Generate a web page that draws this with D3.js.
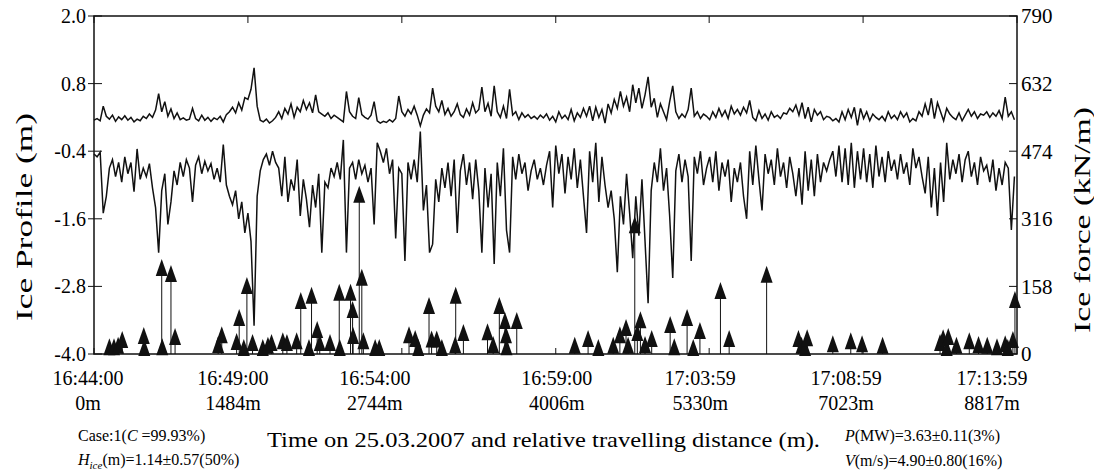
<!DOCTYPE html>
<html>
<head>
<meta charset="utf-8">
<script src="https://cdn.jsdelivr.net/npm/d3@7"></script>
<style>
  body { margin: 0; background: #fff; }
  svg { font-family: "Liberation Serif", "Times New Roman", serif; }
</style>
</head>
<body>
<svg id="chart" width="1094" height="475"></svg>
<script>
// seconds after 16:44:00 for each x tick
const tickSeconds = [0, 300, 600, 900, 1199, 1499, 1799];
const timeLabels = ["16:44:00", "16:49:00", "16:54:00", "16:59:00", "17:03:59", "17:08:59", "17:13:59"];
const distLabels = ["0m", "1484m", "2744m", "4006m", "5330m", "7023m", "8817m"];
const profileTicks = [2.0, 0.8, -0.4, -1.6, -2.8, -4.0];
const forceTicks = [790, 632, 474, 316, 158, 0];

// ice profile (m), one sample every 6 s
const sampleStep = 6;
const topProfile = [
  0.15,0.18,0.14,0.40,0.22,0.17,0.24,0.13,0.21,0.16,
  0.23,0.15,0.20,0.12,0.17,0.14,0.22,0.18,0.26,0.20,
  0.33,0.62,0.30,0.48,0.22,0.35,0.18,0.28,0.16,0.19,
  0.15,0.17,0.36,0.18,0.14,0.24,0.15,0.20,0.13,0.19,
  0.16,0.22,0.12,0.25,0.30,0.38,0.28,0.46,0.33,0.55,
  0.52,0.70,1.08,0.40,0.15,0.12,0.17,0.10,0.14,0.20,
  0.30,0.18,0.36,0.26,0.44,0.20,0.38,0.30,0.50,0.34,
  0.46,0.28,0.60,0.30,0.26,0.22,0.28,0.18,0.24,0.20,
  0.16,0.12,0.66,0.30,0.22,0.18,0.55,0.25,0.20,0.17,
  0.24,0.48,0.14,0.10,0.13,0.11,0.16,0.12,0.18,0.58,
  0.30,0.22,0.34,0.26,0.40,0.24,0.05,0.24,0.35,0.28,
  0.72,0.40,0.30,0.50,0.25,0.36,0.22,0.30,0.44,0.25,
  0.20,0.35,0.24,0.46,0.28,0.34,0.74,0.30,0.45,0.22,
  0.76,0.30,0.20,0.40,0.18,0.70,0.24,0.30,0.16,0.28,
  0.20,0.25,0.18,0.22,0.17,0.24,0.19,0.26,0.15,0.22,
  0.12,0.30,0.18,0.24,0.16,0.34,0.14,0.28,0.20,0.36,
  0.22,0.40,0.14,0.38,0.20,0.34,0.10,0.44,0.28,0.52,
  0.36,0.66,0.40,0.56,0.30,0.78,0.46,0.72,0.36,0.60,
  0.92,0.38,0.54,0.20,0.44,0.30,0.16,0.48,0.76,0.30,
  0.18,0.26,0.20,0.34,0.72,0.22,0.30,0.18,0.26,0.22,
  0.16,0.30,0.20,0.36,0.22,0.32,0.18,0.40,0.26,0.34,
  0.24,0.38,0.28,0.50,0.20,0.14,0.32,0.18,0.26,0.15,
  0.30,0.20,0.24,0.18,0.28,0.26,0.36,0.30,0.42,0.24,
  0.46,0.18,0.38,0.12,0.34,0.24,0.30,0.16,0.22,0.20,
  0.14,0.18,0.12,0.30,0.16,0.34,0.20,0.38,0.06,0.36,
  0.18,0.30,0.14,0.26,0.20,0.16,0.22,0.14,0.30,0.18,
  0.24,0.16,0.30,0.20,0.28,0.12,0.18,0.14,0.30,0.22,
  0.44,0.24,0.54,0.18,0.46,0.30,0.14,0.36,0.26,0.20,
  0.16,0.28,0.14,0.24,0.34,0.22,0.30,0.18,0.26,0.24,
  0.30,0.20,0.28,0.22,0.32,0.18,0.56,0.22,0.30,0.16
];
const bottomProfile = [
  -0.45,-0.50,-0.42,-1.50,-1.20,-0.70,-0.55,-0.85,-0.60,-0.95,
  -0.50,-0.80,-0.60,-1.12,-0.36,-0.90,-0.70,-0.85,-0.62,-1.05,
  -1.40,-2.20,-1.10,-0.80,-1.70,-1.30,-0.75,-1.00,-0.60,-0.85,
  -0.55,-0.70,-1.30,-0.65,-0.50,-0.80,-0.58,-0.75,-0.62,-0.90,
  -0.70,-0.95,-0.28,-1.00,-1.20,-1.35,-1.10,-1.60,-1.30,-1.85,
  -1.50,-2.00,-3.50,-1.20,-0.75,-0.55,-0.45,-0.65,-0.40,-0.60,
  -0.70,-1.20,-0.50,-1.30,-0.90,-1.10,-0.55,-1.55,-0.90,-1.25,
  -1.75,-1.00,-1.40,-0.80,-2.20,-0.95,-1.05,-0.70,-0.85,-0.60,
  -0.90,-0.20,-2.20,-0.70,-0.60,-0.90,-0.55,-0.80,-0.65,-0.95,
  -0.70,-1.70,-0.25,-0.40,-0.60,-0.35,-0.80,-0.55,-1.95,-0.70,
  -0.80,-2.35,-0.60,-0.90,-0.55,-0.95,-0.05,-1.45,-1.00,-2.20,
  -2.05,-0.90,-1.30,-0.70,-1.05,-0.60,-1.20,-0.55,-1.85,-0.75,
  -0.45,-1.00,-0.60,-1.25,-0.55,-1.10,-2.20,-0.70,-1.40,-0.80,
  -2.40,-0.60,-1.20,-0.35,-1.80,-2.20,-0.50,-0.90,-0.45,-0.80,
  -0.60,-1.10,-0.75,-0.55,-0.90,-0.70,-1.00,-0.65,-0.40,-1.40,
  -0.30,-0.80,-0.45,-1.15,-0.50,-0.90,-0.35,-1.05,-0.55,-1.20,
  -1.85,-0.40,-0.95,-0.25,-1.30,-0.50,-1.00,-1.40,-1.10,-1.60,
  -2.55,-1.20,-1.70,-0.80,-1.50,-2.30,-1.20,-1.90,-0.90,-2.00,
  -3.10,-1.10,-0.60,-0.95,-0.35,-1.10,-0.70,-1.55,-2.65,-0.75,
  -0.45,-0.95,-0.55,-0.85,-2.35,-0.50,-0.80,-0.40,-1.00,-0.70,
  -0.50,-0.95,-0.40,-1.10,-0.60,-0.85,-0.55,-1.30,-0.70,-0.95,
  -0.60,-1.20,-1.60,-0.40,-1.00,-0.30,-0.90,-1.45,-0.45,-0.80,
  -0.55,-1.00,-0.35,-0.85,-0.60,-1.05,-0.50,-0.80,-1.20,-0.70,
  -1.35,-0.40,-1.10,-0.55,-1.20,-0.45,-0.95,-0.60,-0.75,-0.55,
  -0.40,-0.85,-0.30,-0.95,-0.35,-1.00,-0.25,-1.05,-0.40,-0.90,
  -0.35,-0.95,-0.45,-1.05,-0.30,-0.85,-0.50,-0.95,-0.40,-0.75,
  -0.55,-0.90,-0.45,-0.80,-0.60,-1.00,-0.35,-0.70,-0.50,-0.85,
  -1.15,-0.50,-1.40,-0.70,-1.55,-0.60,-1.30,-0.25,-0.90,-0.55,
  -0.80,-0.45,-0.95,-0.55,-0.40,-0.85,-0.60,-1.00,-0.50,-0.75,
  -0.65,-0.95,-0.55,-1.10,-0.70,-1.00,-0.60,-0.70,-1.80,-0.85
];

// ice force peaks: time (s) and force (kN/m)
const peakTimes = [
  30, 39, 47, 55, 97, 98, 132, 133, 150, 158, 242, 249, 278, 283, 292, 298, 309, 329, 339, 346,
  368, 376, 395, 403, 419, 424, 435, 440, 460, 478, 479, 500, 504, 505, 517, 522, 525, 548, 556,
  614, 626, 632, 653, 658, 668, 678, 704, 705, 720, 767, 778, 790, 801, 803, 804, 824,
  937, 963, 983, 1012, 1025, 1037, 1041, 1054, 1059, 1065, 1074, 1087, 1123, 1131, 1156, 1168, 1181,
  1221, 1238, 1311, 1373, 1379, 1386, 1390, 1440, 1475, 1497, 1537,
  1649, 1655, 1662, 1665, 1681, 1706, 1724, 1741, 1760, 1776, 1781, 1791, 1795
];
const peakForces = [
  16, 16, 19, 33, 42, 14, 201, 16, 187, 40, 21, 44, 28, 84, 14, 159, 26, 14, 19, 26,
  30, 26, 30, 124, 14, 136, 56, 26, 26, 143, 14, 143, 103, 42, 372, 178, 30, 14, 14,
  44, 35, 14, 112, 34, 34, 14, 21, 136, 49, 51, 21, 112, 77, 44, 16, 77,
  19, 35, 14, 19, 44, 61, 19, 301, 49, 79, 21, 35, 68, 16, 84, 14, 54,
  147, 35, 185, 35, 19, 14, 37, 23, 30, 23, 19,
  26, 37, 14, 40, 19, 30, 21, 19, 16, 23, 14, 33, 126
];

// layout
const plotLeft = 94, plotRight = 1017, plotTop = 16, plotBottom = 354;
const labelShift = [-6, -15, -27, 1, -9, -17, -25];

const svg = d3.select("#chart");

const x = d3.scaleLinear().domain([0, 1799]).range([plotLeft, plotRight]);
const yL = d3.scaleLinear().domain([-4, 2]).range([plotBottom, plotTop]);
const yR = d3.scaleLinear().domain([0, 790]).range([plotBottom, plotTop]);

// profile lines
const line = d3.line()
    .x((d, i) => x(i * sampleStep))
    .y(d => yL(d));

[topProfile, bottomProfile].forEach(series => {
    svg.append("path")
        .datum(series)
        .attr("d", line)
        .attr("fill", "none")
        .attr("stroke", "#111")
        .attr("stroke-width", 1.5)
        .attr("stroke-linejoin", "miter");
});

// force stems with triangle markers
const peaks = peakTimes.map((t, i) => ({ t: t, f: peakForces[i] }));

svg.selectAll(".stem")
    .data(peaks)
    .enter()
    .append("line")
    .attr("class", "stem")
    .attr("x1", d => x(d.t))
    .attr("x2", d => x(d.t))
    .attr("y1", yR(0))
    .attr("y2", d => yR(d.f))
    .attr("stroke", "#111")
    .attr("stroke-width", 1);

svg.selectAll(".marker")
    .data(peaks)
    .enter()
    .append("path")
    .attr("class", "marker")
    .attr("d", "M0,-9L6,8L-6,8Z")
    .attr("transform", d => `translate(${x(d.t)},${yR(d.f)})`)
    .attr("fill", "#111");

// frame
svg.append("rect")
    .attr("x", plotLeft)
    .attr("y", plotTop)
    .attr("width", plotRight - plotLeft)
    .attr("height", plotBottom - plotTop)
    .attr("fill", "none")
    .attr("stroke", "#111")
    .attr("stroke-width", 1.5);

// x ticks (inside, top and bottom)
tickSeconds.forEach((s, i) => {
    svg.append("line")
        .attr("x1", x(s)).attr("x2", x(s))
        .attr("y1", plotBottom).attr("y2", plotBottom - 6)
        .attr("stroke", "#111");
    svg.append("line")
        .attr("x1", x(s)).attr("x2", x(s))
        .attr("y1", plotTop).attr("y2", plotTop + 7)
        .attr("stroke", "#111");
    svg.append("text")
        .attr("x", x(s) + labelShift[i])
        .attr("y", 385)
        .attr("text-anchor", "middle")
        .attr("font-size", 20)
        .text(timeLabels[i]);
    svg.append("text")
        .attr("x", x(s) + labelShift[i])
        .attr("y", 410)
        .attr("text-anchor", "middle")
        .attr("font-size", 20)
        .text(distLabels[i]);
});

// left axis
profileTicks.forEach(v => {
    svg.append("line")
        .attr("x1", plotLeft - 6).attr("x2", plotLeft + 8)
        .attr("y1", yL(v)).attr("y2", yL(v))
        .attr("stroke", "#111");
    svg.append("text")
        .attr("x", plotLeft - 8)
        .attr("y", yL(v))
        .attr("dy", "0.35em")
        .attr("text-anchor", "end")
        .attr("font-size", 20)
        .text(v.toFixed(1));
});

// right axis
forceTicks.forEach(v => {
    svg.append("line")
        .attr("x1", plotRight - 8).attr("x2", plotRight)
        .attr("y1", yR(v)).attr("y2", yR(v))
        .attr("stroke", "#111");
    svg.append("text")
        .attr("x", plotRight + 4)
        .attr("y", yR(v))
        .attr("dy", "0.35em")
        .attr("font-size", 21)
        .text(v);
});

// axis titles
svg.append("text")
    .attr("transform", "translate(24,217) rotate(-90)")
    .attr("text-anchor", "middle")
    .attr("dominant-baseline", "central")
    .attr("font-size", 24)
    .attr("textLength", 208)
    .attr("lengthAdjust", "spacingAndGlyphs")
    .text("Ice Profile (m)");

svg.append("text")
    .attr("transform", "translate(1082,220) rotate(-90)")
    .attr("text-anchor", "middle")
    .attr("dominant-baseline", "central")
    .attr("font-size", 24)
    .attr("textLength", 226)
    .attr("lengthAdjust", "spacingAndGlyphs")
    .text("Ice force (kN/m)");

svg.append("text")
    .attr("x", 267)
    .attr("y", 447)
    .attr("font-size", 22)
    .attr("textLength", 553)
    .attr("lengthAdjust", "spacingAndGlyphs")
    .text("Time on 25.03.2007 and relative travelling distance (m).");

// case annotations
const caseText = svg.append("text").attr("x", 78).attr("y", 441).attr("font-size", 16);
caseText.append("tspan").text("Case:1(");
caseText.append("tspan").attr("font-style", "italic").text("C");
caseText.append("tspan").text(" =99.93%)");

const hText = svg.append("text").attr("x", 78).attr("y", 465).attr("font-size", 16);
hText.append("tspan").attr("font-style", "italic").text("H");
hText.append("tspan").attr("font-style", "italic").attr("font-size", 11).attr("dy", 4).text("ice");
hText.append("tspan").attr("dy", -4).text("(m)=1.14±0.57(50%)");

const pText = svg.append("text").attr("x", 845).attr("y", 441).attr("font-size", 16);
pText.append("tspan").attr("font-style", "italic").text("P");
pText.append("tspan").text("(MW)=3.63±0.11(3%)");

const vText = svg.append("text").attr("x", 845).attr("y", 466).attr("font-size", 16);
vText.append("tspan").attr("font-style", "italic").text("V");
vText.append("tspan").text("(m/s)=4.90±0.80(16%)");
</script>
</body>
</html>
